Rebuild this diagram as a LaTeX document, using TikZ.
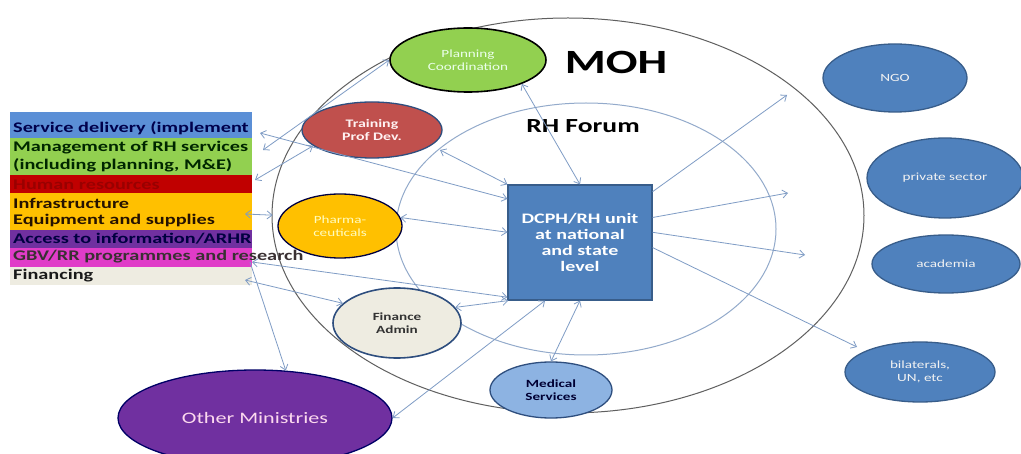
\documentclass[tikz,border=0pt]{standalone}
\usepackage{fontspec}
\setmainfont{Carlito}[FakeStretch=1.38]
\usetikzlibrary{shapes.geometric,arrows.meta,calc}
\definecolor{arrowc}{HTML}{7F9CC5}
\definecolor{mohline}{HTML}{5F5F5F}
\definecolor{rhline}{HTML}{93AACB}
\definecolor{boxfill}{HTML}{4F81BD}
\definecolor{boxdraw}{HTML}{385D8A}
\definecolor{rowblue}{HTML}{5B8FD6}
\definecolor{rowgreen}{HTML}{92D050}
\definecolor{rowred}{HTML}{C00000}
\definecolor{rowora}{HTML}{FFC000}
\definecolor{rowpur}{HTML}{7030A0}
\definecolor{rowmag}{HTML}{E03CC8}
\definecolor{rowgrey}{HTML}{EEECE1}
\definecolor{trainfill}{HTML}{C0504D}
\definecolor{medfill}{HTML}{8DB3E2}
\definecolor{darkbl}{HTML}{2E4E7E}
\begin{document}
\begin{tikzpicture}[x=1pt,y=-1pt,
  conn/.style={draw=arrowc, line width=0.8pt, {Straight Barb[length=5pt,width=8pt]}-{Straight Barb[length=5pt,width=8pt]}},
  onearrow/.style={draw=arrowc, line width=0.8pt, -{Straight Barb[length=5pt,width=8pt]}},
  bub/.style={ellipse, inner sep=0pt, line width=1.3pt, align=center, font=\fontsize{11}{13}\selectfont},
  outside/.style={bub, fill=boxfill, draw=boxdraw, text=white!95!black},
  rowbox/.style={rectangle, inner sep=0pt, minimum width=242, anchor=north west},
  rowtext/.style={anchor=west, inner sep=0pt, font=\bfseries\fontsize{14.7}{18}\selectfont}
]
\useasboundingbox[fill=white] (0,0) rectangle (1021,454);

% big circles
\draw[mohline, line width=1pt] (568,215.5) ellipse [x radius=296, y radius=197.5];
\draw[rhline, line width=1pt] (586,229) ellipse [x radius=190, y radius=126];

% list rows
\node[rowbox, fill=rowblue, minimum height=26] (r1) at (10,112) {};
\node[rowbox, fill=rowgreen, minimum height=37] (r2) at (10,138) {};
\node[rowbox, fill=rowred, minimum height=18] (r3) at (10,175) {};
\node[rowbox, fill=rowora, minimum height=37] (r4) at (10,193) {};
\node[rowbox, fill=rowpur, minimum height=18] (r5) at (10,230) {};
\node[rowbox, fill=rowmag, minimum height=19] (r6) at (10,248) {};
\node[rowbox, fill=rowgrey, minimum height=18] (r7) at (10,267) {};

\node[rowtext, text=black!70!blue] (t1) at (13,128) {Service delivery (implement};
\node[rowtext, text=black!85!green] (t2a) at (13,148) {Management of RH services};
\node[rowtext, text=black!85!green] (t2b) at (13,165) {(including planning, M\&E)};
\node[rowtext, text=red!60!black] (t3) at (13,185) {Human resources};
\node[rowtext, text=black!85!orange] (t4a) at (13,203) {Infrastructure};
\node[rowtext, text=black!85!orange] (t4b) at (13,221) {Equipment and supplies};
\node[rowtext, text=black!75!blue] (t5) at (13,239) {Access to information/ARHR};
\node[rowtext, text=black!90!magenta] (t6) at (13,257) {GBV/RR programmes and research};
\node[rowtext, text=black!90] (t7) at (13,276) {Financing};

% central nodes
\node[bub, fill=rowgreen, draw=black, line width=1.6pt, minimum width=156, minimum height=64, text=white!92!green] (plan) at (468,60) {Planning\\Coordination};
\node[bub, fill=trainfill, draw=darkbl, minimum width=140, minimum height=56, text=white!95!red, font=\bfseries\fontsize{11.5}{13}\selectfont] (train) at (372,130) {Training\\Prof Dev.};
\node[bub, fill=rowora, draw=black!75!blue, minimum width=124, minimum height=64, text=yellow!25!white] (pharma) at (340,226) {Pharma-\\ceuticals};
\node[bub, fill=rowgrey, draw=darkbl, line width=1.6pt, minimum width=128, minimum height=70, text=black!80, font=\bfseries\fontsize{11}{13}\selectfont] (fin) at (397,323) {Finance\\Admin};
\node[bub, fill=medfill, draw=darkbl, minimum width=122, minimum height=56, text=black!80!blue, font=\bfseries\fontsize{11}{13}\selectfont] (med) at (551,390) {Medical\\Services};
\node[rectangle, fill=boxfill, draw=boxdraw, line width=1.2pt, minimum width=144, minimum height=115, inner sep=0pt, align=center, text=white, font=\bfseries\fontsize{14.5}{16.3}\selectfont] (box) at (580,242.5) {DCPH/RH unit\\at national\\and state\\level};
\node[bub, fill=rowpur, draw=black!60!blue, minimum width=274, minimum height=96, text=white!85!magenta, font=\fontsize{16}{18}\selectfont] (om) at (255,418) {Other Ministries};

\node[font=\bfseries\fontsize{34}{36}\selectfont, inner sep=0pt] (moh) at (616,62) {MOH};
\node[font=\bfseries\fontsize{20}{22}\selectfont, inner sep=0pt] (rhf) at (583,126) {RH Forum};

% outside partners
\node[outside, minimum width=144, minimum height=68] (ngo) at (895,78) {NGO};
\node[outside, minimum width=156, minimum height=80] (priv) at (945,178) {private sector};
\node[outside, minimum width=148, minimum height=58] (acad) at (946,264) {academia};
\node[outside, minimum width=150, minimum height=60] (bil) at (920,372) {bilaterals,\\UN, etc};

% free ends
\coordinate (c1) at (260,133);
\coordinate (c2) at (263,150);
\coordinate (c3) at (255,180);
\coordinate (c4) at (245,214);
\coordinate (c5) at (252,262);
\coordinate (c6) at (245,280);
\coordinate (c7) at (250,262);
\coordinate (c8) at (440,150);
\coordinate (e1) at (787,95);
\coordinate (e2) at (788,193);
\coordinate (e3) at (805,255);
\coordinate (e4) at (857,347);

% connectors
\draw[conn] (plan.-24) -- (box.north);
\draw[conn] (c1) -- (box.149.5);
\draw[conn] (c2) -- (plan.west);
\draw[conn] (c3) -- (train.195);
\draw[conn, shorten >=8pt] (c4) -- (pharma.170);
\draw[conn] (pharma.8) -- (box.172);
\draw[conn] (c5) -- (box.217);
\draw[conn] (c6) -- (fin.160);
\draw[conn] (fin.15) -- (box.219);
\draw[conn] (om.east) -- (box.239);
\draw[conn] (med.north) -- (box.south);
\draw[onearrow] (c7) -- (om.57);
\draw[conn] (c8) -- (box.north west);
\draw[onearrow] (box.35) -- (e1);
\draw[onearrow] (box.19.5) -- (e2);
\draw[onearrow] (box.8) -- (e3);
\draw[onearrow] (box.-4) -- (e4);
\end{tikzpicture}
\end{document}
